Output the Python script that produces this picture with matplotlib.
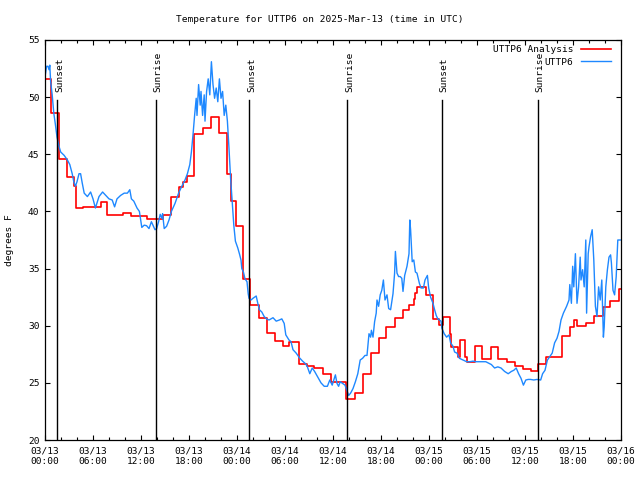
import numpy as np
import pandas as pd
import matplotlib
matplotlib.use('Agg')
import matplotlib.pyplot as plt
import matplotlib.dates as mdates
import matplotlib.transforms as mtrans

''' ---------------- data (hours after 2025-03-13 00:00 UTC) ---------------- '''
base = pd.Timestamp('2025-03-13 00:00')

# observed station temperature
blue_h = [0.05, 0.2, 0.375, 0.5, 0.6, 0.7, 0.9, 1.1, 1.3, 1.5,
          1.75, 1.96, 2.4, 2.8, 3.1, 3.4, 3.6, 3.8, 4.0, 4.25,
          4.45, 4.65, 4.9, 5.3, 5.7, 6.0, 6.3, 6.75, 7.2, 7.6,
          8.0, 8.4, 8.7, 9.0, 9.45, 9.9, 10.3, 10.6, 10.8, 11.1,
          11.5, 11.8, 12.1, 12.4, 12.7, 13.0, 13.3, 13.75, 13.95, 14.2,
          14.4, 14.6, 14.7, 14.9, 15.2, 15.5, 15.8, 16.25, 16.7, 17.1,
          17.5, 17.8, 18.1, 18.3, 18.5, 18.7, 18.9, 19.0, 19.2, 19.4,
          19.5, 19.7, 19.9, 20.0, 20.2, 20.4, 20.6, 20.8, 21.0, 21.2,
          21.4, 21.6, 21.8, 22.0, 22.2, 22.4, 22.6, 22.8, 23.0, 23.2,
          23.4, 23.6, 23.8, 24.1, 24.3, 24.5, 24.6, 24.8, 25.0, 25.25,
          25.4, 25.5, 25.75, 26.0, 26.4, 26.6, 26.8, 27.1, 27.4, 27.7,
          28.0, 28.5, 28.9, 29.3, 29.6, 29.9, 30.1, 30.5, 30.75, 31.0,
          31.4, 31.8, 32.2, 32.6, 32.8, 33.1, 33.4, 33.7, 34.1, 34.5,
          34.9, 35.3, 35.6, 35.9, 36.3, 36.5, 36.7, 36.9, 37.2, 37.5,
          37.7, 37.96, 38.2, 38.5, 38.8, 39.1, 39.4, 39.7, 40.0, 40.25,
          40.5, 40.7, 40.8, 41.0, 41.2, 41.4, 41.5, 41.7, 41.9, 42.1,
          42.3, 42.5, 42.75, 42.96, 43.2, 43.5, 43.7, 43.8, 44.0, 44.2,
          44.4, 44.6, 44.75, 44.96, 45.25, 45.5, 45.6, 45.7, 45.9, 46.1,
          46.3, 46.5, 46.8, 47.0, 47.3, 47.5, 47.8, 47.96, 48.2, 48.5,
          48.7, 48.9, 49.1, 49.5, 49.6, 49.9, 50.2, 50.5, 50.7, 51.0,
          51.2, 51.5, 51.8, 52.25, 52.7, 53.1, 53.5, 53.9, 54.5, 55.1,
          55.8, 56.2, 56.6, 57.0, 57.45, 57.9, 58.3, 58.6, 58.9, 59.2,
          59.5, 59.8, 60.1, 60.4, 60.7, 61.1, 61.5, 61.96, 62.2, 62.5,
          62.8, 63.1, 63.4, 63.7, 64.0, 64.25, 64.5, 64.8, 65.0, 65.2,
          65.5, 65.6, 65.8, 65.96, 66.1, 66.3, 66.5, 66.7, 66.9, 67.0,
          67.2, 67.4, 67.6, 67.7, 67.9, 68.0, 68.2, 68.4, 68.6, 68.8,
          69.0, 69.2, 69.4, 69.6, 69.8, 69.9, 70.1, 70.3, 70.5, 70.7,
          70.8, 71.0, 71.2, 71.4, 71.6, 71.9]
blue_t = [52.0, 52.7, 52.7, 52.4, 52.8, 51.4, 50.2, 48.6, 47.6, 46.5,
          45.7, 45.2, 44.9, 44.5, 44.1, 43.3, 42.6, 42.2, 42.6, 43.3,
          43.3, 42.5, 41.6, 41.3, 41.7, 41.1, 40.3, 41.3, 41.7, 41.4,
          41.1, 41.0, 40.4, 41.1, 41.4, 41.6, 41.6, 41.9, 41.1, 40.9,
          40.3, 40.0, 38.6, 38.8, 38.75, 38.5, 39.1, 38.4, 38.5, 39.1,
          39.75, 39.4, 39.8, 38.5, 38.7, 39.25, 40.0, 40.7, 41.6, 42.2,
          42.75, 43.3, 44.1, 45.2, 46.7, 48.4, 49.9, 48.4, 51.1, 49.3,
          50.5, 48.4, 50.2, 47.9, 50.5, 51.6, 50.2, 53.1, 51.1, 49.9,
          50.8, 49.6, 51.6, 49.9, 50.5, 48.4, 49.3, 47.9, 45.5, 42.9,
          40.9, 38.8, 37.4, 36.8, 36.3, 35.75, 35.0, 34.7, 34.1, 33.85,
          32.8, 32.4, 32.25, 32.4, 32.6, 31.96, 31.4, 31.2, 30.8, 30.6,
          30.5, 30.7, 30.4, 30.5, 30.6, 30.2, 29.2, 28.75, 28.6, 27.9,
          27.6, 27.2, 26.9, 26.65, 26.4, 25.8, 26.3, 26.0, 25.5, 25.0,
          24.7, 24.7, 25.25, 24.8, 25.7, 24.95, 24.7, 25.1, 24.95, 24.8,
          24.4, 23.9, 24.1, 24.5, 25.1, 25.8, 27.0, 27.15, 27.4, 27.4,
          29.3, 29.0, 29.6, 29.0, 30.35, 31.1, 32.25, 31.7, 32.7, 33.1,
          34.0, 32.25, 32.7, 31.5, 31.4, 32.8, 34.6, 36.5, 34.6, 34.3,
          34.3, 34.15, 33.0, 34.4, 35.2, 36.3, 39.25, 38.4, 35.6, 35.75,
          34.7, 34.6, 33.7, 33.3, 33.3, 34.0, 34.4, 33.3, 32.5, 31.96,
          31.4, 30.9, 30.6, 30.4, 29.8, 29.3, 29.0, 29.2, 28.5, 28.2,
          27.7, 27.6, 27.15, 27.0, 26.85, 26.85, 26.9, 26.85, 26.85, 26.85,
          26.6, 26.3, 26.4, 26.3, 26.0, 25.8, 26.0, 26.1, 26.3, 25.8,
          25.4, 24.8, 25.25, 25.3, 25.3, 25.25, 25.3, 25.25, 25.8, 26.1,
          27.0, 27.3, 27.6, 28.5, 28.9, 29.5, 30.5, 31.1, 31.4, 31.7,
          32.25, 33.6, 31.96, 35.2, 33.4, 36.3, 31.96, 33.4, 36.0, 34.0,
          34.9, 33.4, 37.5, 31.1, 36.3, 36.9, 37.8, 38.4, 35.75, 31.7,
          30.8, 33.4, 32.25, 34.0, 29.0, 29.9, 33.4, 34.9, 36.0, 36.2,
          35.5, 33.1, 32.7, 34.3, 37.5, 37.5]

# analysis temperature (step changes)
red_h = [0.0, 0.7, 1.7, 2.7, 3.6, 3.9, 4.8, 7.0, 7.7, 9.7,
         10.8, 12.7, 14.7, 15.7, 16.75, 17.2, 17.8, 18.6, 19.7, 20.8,
         21.7, 22.8, 23.2, 23.9, 24.8, 25.6, 26.7, 27.7, 28.75, 29.8,
         30.5, 31.7, 32.7, 33.6, 34.8, 35.8, 37.6, 38.8, 39.7, 40.75,
         41.7, 42.6, 43.7, 44.7, 45.5, 46.1, 46.3, 46.5, 47.6, 48.5,
         49.3, 49.75, 50.6, 50.8, 51.6, 51.9, 52.5, 52.8, 53.8, 54.6,
         55.8, 56.6, 57.7, 58.8, 59.75, 60.7, 61.6, 62.6, 64.6, 65.6,
         66.1, 66.5, 67.6, 68.6, 69.7, 70.6, 71.75, 72.0]
red_t = [51.6, 48.6, 44.6, 43.0, 42.2, 40.3, 40.4, 40.8, 39.7, 39.9,
         39.6, 39.3, 39.7, 41.3, 42.1, 42.6, 43.1, 46.8, 47.3, 48.3,
         46.9, 43.3, 40.9, 38.7, 34.06, 31.8, 30.7, 29.4, 28.7, 28.25,
         28.6, 26.65, 26.5, 26.3, 25.8, 25.05, 23.6, 24.1, 25.8, 27.6,
         28.9, 29.9, 30.7, 31.4, 31.8, 32.3, 32.9, 33.4, 32.65, 30.6,
         30.1, 30.8, 29.3, 28.1, 27.3, 28.75, 27.3, 26.85, 28.2, 27.1,
         28.1, 27.1, 26.8, 26.5, 26.2, 26.0, 26.65, 27.3, 29.1, 29.9,
         30.5, 30.0, 30.2, 30.85, 31.6, 32.2, 33.2, 33.2]

sun_labels = ['Sunset', 'Sunrise', 'Sunset', 'Sunrise', 'Sunset', 'Sunrise']
sun_h = [1.54, 13.91, 25.54, 37.79, 49.59, 61.66]

''' ---------------- style ---------------- '''
font_size = 6.8
plt.rcParams['font.family'] = 'DejaVu Sans Mono'
plt.rcParams['font.size'] = font_size

def to_time(hours):
    return base + pd.to_timedelta(np.asarray(hours), unit='h')

''' ---------------- plot ---------------- '''
fig = plt.figure(figsize=(6.4, 4.8), dpi=100)
ax = fig.add_axes([45/640, 40/480, 576/640, 400/480])

ax.plot(to_time(red_h), red_t, color='#ff0000', lw=1.2, drawstyle='steps-post',
        label='UTTP6 Analysis')
ax.plot(to_time(blue_h), blue_t, color='#1e88ff', lw=1.0, label='UTTP6')

# sunrise / sunset markers
txt_tr = mtrans.offset_copy(ax.get_xaxis_transform(), fig=fig, x=1.5, y=0,
                            units='points')
for lab, h in zip(sun_labels, sun_h):
    t = to_time([h])[0]
    ax.axvline(t, ymin=0, ymax=0.85, color='black', lw=1.0)
    ax.text(t, 0.87, lab, transform=txt_tr, rotation=90, ha='center',
            va='bottom')

ax.set_xlim(base, base + pd.Timedelta(hours=72))
ax.set_ylim(20, 55)
ax.set_yticks(np.arange(20, 56, 5))
ax.xaxis.set_major_locator(mdates.HourLocator(byhour=[0, 6, 12, 18]))
ax.xaxis.set_minor_locator(mdates.HourLocator(interval=2))
ax.xaxis.set_major_formatter(mdates.DateFormatter('%m/%d\n%H:%M'))
ax.tick_params(which='both', direction='in', top=True, right=True,
               width=0.8, labelsize=font_size)
ax.tick_params(which='major', length=3.6)
ax.tick_params(which='minor', length=2.0)
ax.tick_params(axis='x', pad=5)
ax.tick_params(axis='y', pad=4)
for sp in ax.spines.values():
    sp.set_linewidth(0.9)

fig.text(10/640, 0.5, 'degrees F', rotation=90, ha='center', va='center')
fig.text(0.5, 1 - 20/480, 'Temperature for UTTP6 on 2025-Mar-13 (time in UTC)',
         ha='center', va='center')

ax.legend(loc='upper right', bbox_to_anchor=(611/640, 1 - 45/480),
          bbox_transform=fig.transFigure, frameon=False, markerfirst=False,
          borderpad=0, borderaxespad=0, handlelength=3.2, handletextpad=0.8,
          labelspacing=0.4)

fig.savefig('out.png', dpi=100)
